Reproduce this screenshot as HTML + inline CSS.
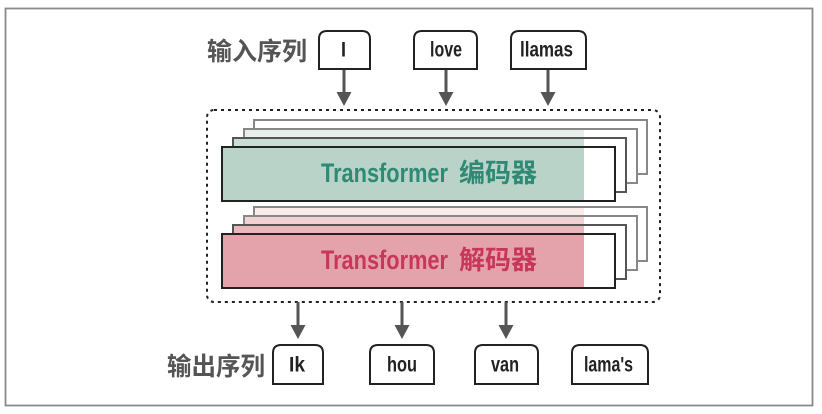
<!DOCTYPE html>
<html><head><meta charset="utf-8"><style>
html,body{margin:0;padding:0;background:#fff;}
svg{display:block;}
text{font-family:"Liberation Sans","Noto Sans CJK SC",sans-serif;font-weight:bold;}
</style></head><body>
<svg width="822" height="414" viewBox="0 0 822 414" xmlns="http://www.w3.org/2000/svg">
<rect x="0" y="0" width="822" height="414" fill="#fff"/>
<rect x="5.5" y="8.5" width="807" height="397" fill="none" stroke="#8a8a8a" stroke-width="1.8"/>

<!-- input label -->
<text x="207" y="60" font-size="25" fill="#555" textLength="100" lengthAdjust="spacingAndGlyphs">输入序列</text>

<!-- input boxes -->
<g fill="#fff" stroke="#222" stroke-width="2">
<path d="M319,69 L319,39 Q319,31 327,31 L362,31 Q370,31 370,39 L370,69 Z"/>
<path d="M414,69 L414,39 Q414,31 422,31 L469,31 Q477,31 477,39 L477,69 Z"/>
<path d="M511,69 L511,39 Q511,31 519,31 L578,31 Q586,31 586,39 L586,69 Z"/>
</g>
<g font-size="21" fill="#222">
<text x="341" y="56.5" textLength="5" lengthAdjust="spacingAndGlyphs">I</text>
<text x="430" y="56.5" textLength="32" lengthAdjust="spacingAndGlyphs">love</text>
<text x="520" y="56.5" textLength="53" lengthAdjust="spacingAndGlyphs">llamas</text>
</g>

<!-- input arrows -->
<g stroke="#555" stroke-width="3">
<line x1="344" y1="70" x2="344" y2="93"/>
<line x1="446" y1="70" x2="446" y2="93"/>
<line x1="548" y1="70" x2="548" y2="93"/>
</g>
<g fill="#555">
<polygon points="336.5,92 351.5,92 344,106"/>
<polygon points="438.5,92 453.5,92 446,106"/>
<polygon points="540.5,92 555.5,92 548,106"/>
</g>

<!-- dotted container -->
<rect x="207" y="110" width="453" height="192" rx="7" fill="none" stroke="#222" stroke-width="2" stroke-dasharray="3,4"/>

<!-- encoder layers -->
<g stroke-width="2">
<rect x="254" y="120" width="330" height="54" fill="#fff" stroke="none"/>
<rect x="254" y="120" width="393" height="54" fill="none" stroke="#888"/>
<rect x="244" y="129" width="340" height="54" fill="#e6efeb" stroke="none"/>
<rect x="584" y="129" width="53" height="54" fill="#fff" stroke="none"/>
<rect x="244" y="129" width="393" height="54" fill="none" stroke="#888"/>
<rect x="233" y="138" width="351" height="54" fill="#c9ddd5" stroke="none"/>
<rect x="584" y="138" width="42" height="54" fill="#fff" stroke="none"/>
<rect x="233" y="138" width="393" height="54" fill="none" stroke="#555"/>
<rect x="222" y="147" width="362" height="54" fill="#bad3c9" stroke="none"/>
<rect x="584" y="147" width="31" height="54" fill="#fff" stroke="none"/>
<rect x="222" y="147" width="393" height="54" fill="none" stroke="#222"/>
</g>
<text x="321" y="182" font-size="27" fill="#2e8a74" textLength="127" lengthAdjust="spacingAndGlyphs">Transformer</text>
<text x="459" y="182" font-size="26" fill="#2e8a74" textLength="78" lengthAdjust="spacingAndGlyphs">编码器</text>

<!-- decoder layers -->
<g stroke-width="2">
<rect x="254" y="207" width="330" height="54" fill="#fbecec" stroke="none"/>
<rect x="584" y="207" width="63" height="54" fill="#fff" stroke="none"/>
<rect x="254" y="207" width="393" height="54" fill="none" stroke="#888"/>
<rect x="244" y="216" width="340" height="54" fill="#f3d2d4" stroke="none"/>
<rect x="584" y="216" width="53" height="54" fill="#fff" stroke="none"/>
<rect x="244" y="216" width="393" height="54" fill="none" stroke="#888"/>
<rect x="233" y="225" width="351" height="54" fill="#eab7bb" stroke="none"/>
<rect x="584" y="225" width="42" height="54" fill="#fff" stroke="none"/>
<rect x="233" y="225" width="393" height="54" fill="none" stroke="#555"/>
<rect x="222" y="234" width="362" height="54" fill="#e4a3aa" stroke="none"/>
<rect x="584" y="234" width="31" height="54" fill="#fff" stroke="none"/>
<rect x="222" y="234" width="393" height="54" fill="none" stroke="#222"/>
</g>
<text x="321" y="269" font-size="27" fill="#c8375a" textLength="127" lengthAdjust="spacingAndGlyphs">Transformer</text>
<text x="459" y="269" font-size="26" fill="#c8375a" textLength="78" lengthAdjust="spacingAndGlyphs">解码器</text>

<!-- output arrows -->
<g stroke="#555" stroke-width="3">
<line x1="298" y1="302" x2="298" y2="327"/>
<line x1="402" y1="302" x2="402" y2="327"/>
<line x1="506" y1="302" x2="506" y2="327"/>
</g>
<g fill="#555">
<polygon points="290.5,325 305.5,325 298,339"/>
<polygon points="394.5,325 409.5,325 402,339"/>
<polygon points="498.5,325 513.5,325 506,339"/>
</g>

<!-- output label -->
<text x="167" y="375" font-size="25" fill="#555" textLength="98" lengthAdjust="spacingAndGlyphs">输出序列</text>

<!-- output boxes -->
<g fill="#fff" stroke="#222" stroke-width="2">
<path d="M273,384 L273,353 Q273,345 281,345 L315,345 Q323,345 323,353 L323,384 Z"/>
<path d="M370,384 L370,353 Q370,345 378,345 L426,345 Q434,345 434,353 L434,384 Z"/>
<path d="M475,384 L475,353 Q475,345 483,345 L530,345 Q538,345 538,353 L538,384 Z"/>
<path d="M572,384 L572,353 Q572,345 580,345 L640,345 Q648,345 648,353 L648,384 Z"/>
</g>
<g font-size="21" fill="#222">
<text x="289" y="371.5" textLength="16" lengthAdjust="spacingAndGlyphs">Ik</text>
<text x="387" y="371.5" textLength="30" lengthAdjust="spacingAndGlyphs">hou</text>
<text x="491" y="371.5" textLength="28" lengthAdjust="spacingAndGlyphs">van</text>
<text x="584" y="371.5" textLength="49" lengthAdjust="spacingAndGlyphs">lama's</text>
</g>
</svg>
</body></html>
